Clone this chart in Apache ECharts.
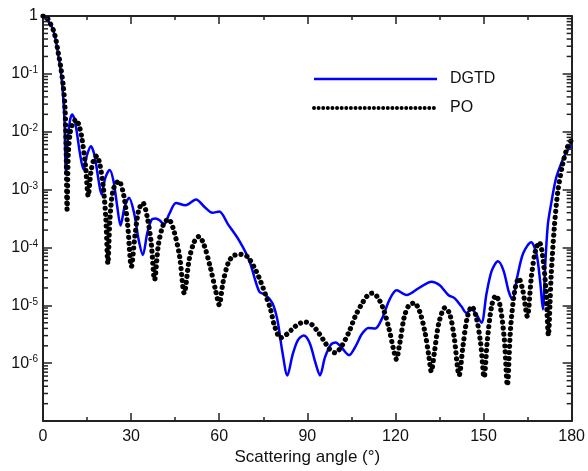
<!DOCTYPE html>
<html>
<head>
<meta charset="utf-8">
<script src="https://cdn.jsdelivr.net/npm/echarts@6/dist/echarts.min.js"></script>
<style>
  html, body { margin: 0; padding: 0; background: #fff; overflow: hidden; }
  #chart { width: 588px; height: 471px; }
</style>
</head>
<body>
<div id="chart"></div>
<script>
// values; y values kept as log10 exponents
var dgtdAngle = [0,2.4,3.5,4.4,5.2,6.0,6.8,7.3,7.8,8.5,
  9.2,9.9,10.7,11.5,12.5,13.8,15,16.3,17.5,18.8,
  19.9,21.2,22.7,24,25.3,26.4,27.8,29.3,31,32.5,
  34,35.5,37,38.3,39.7,41.2,43,45.3,48.5,52.1,
  55,57.7,60,63,66.8,70.2,73.6,75.8,78.1,79.8,
  81.5,83.2,85,86.8,88.8,90.8,92.8,94.3,96,98,
  99.7,101.5,104.2,106.5,108.5,110.8,113.1,115.5,118,120.4,
  123.8,128,132.3,135,138,140.2,142.5,144.2,145.9,147.5,
  149.3,151,152.8,154.9,156.8,158.5,159.8,161.5,163.5,166.2,
  168,169.3,170.2,171,171.9,173,174.7,176.9,178.5,180];
var dgtdExp = [0,-0.13,-0.25,-0.43,-0.68,-0.93,-1.35,-1.8,-2.7,-2.1,
  -1.8,-1.70,-1.78,-2.0,-2.35,-2.65,-2.4,-2.25,-2.4,-2.8,
  -3.08,-2.8,-2.66,-2.85,-3.3,-3.62,-3.3,-3.14,-3.4,-3.85,
  -4.13,-3.75,-3.52,-3.50,-3.53,-3.60,-3.42,-3.23,-3.27,-3.17,
  -3.30,-3.40,-3.38,-3.6,-3.88,-4.22,-4.76,-4.82,-4.96,-5.25,
  -5.8,-6.21,-5.85,-5.6,-5.52,-5.65,-6.0,-6.21,-5.9,-5.68,
  -5.64,-5.72,-5.86,-5.7,-5.5,-5.39,-5.40,-5.22,-4.9,-4.74,
  -4.82,-4.70,-4.59,-4.65,-4.82,-4.88,-5.02,-5.13,-5.07,-5.15,
  -5.30,-4.8,-4.4,-4.24,-4.4,-4.75,-4.90,-4.5,-4.1,-3.91,
  -4.1,-4.6,-5.07,-4.3,-3.60,-3.25,-2.80,-2.49,-2.33,-2.24];

var poAngle = [0,1.2,2.4,3.5,4.4,5.2,6.0,6.9,7.5,7.9,
  8.2,8.6,9.3,10.2,11.2,12.2,13.2,14.5,15.4,16.3,
  17.3,18.3,19.3,20.5,21.4,22.1,22.8,23.9,25.8,27.5,
  28.8,30.1,31.3,32.6,34.0,35.4,36.8,38.0,39.3,41,
  42.7,44.5,46.5,48.1,49.8,51.5,53.1,54.8,57,58.8,
  60,61.3,63.2,65,67.3,69.6,72.4,74.2,75.8,77.5,
  78.8,80.9,83,85.5,87.5,89.4,91.5,93.5,95.5,97.5,
  99.5,101.5,104.1,106.3,108.5,110.5,112,113.8,115.8,117.8,
  119.3,120.3,121.5,123,124.6,126.4,128.2,130,131.3,132.2,
  133.3,134.8,136.9,138.5,140,141.7,143,144.5,146,147.5,
  149,150.2,151.3,152.8,154.2,155.6,157.1,158.1,159.2,160.6,
  162,163.4,164.9,166.3,167.7,169,170,171.2,172.1,172.6,
  173,174.1,175.3,176.9,178.6,180];
var poExp = [0,-0.02,-0.125,-0.24,-0.41,-0.64,-0.87,-1.21,-1.6,-2.3,
  -3.34,-2.4,-2.0,-1.85,-1.79,-1.88,-2.1,-2.6,-3.11,-2.7,
  -2.48,-2.42,-2.55,-2.95,-3.5,-4.28,-3.5,-3.0,-2.85,-3.1,
  -3.6,-4.33,-3.8,-3.35,-3.23,-3.45,-3.9,-4.56,-3.95,-3.6,
  -3.51,-3.7,-4.15,-4.79,-4.2,-3.9,-3.81,-3.95,-4.35,-4.75,
  -4.99,-4.6,-4.25,-4.14,-4.12,-4.16,-4.39,-4.6,-4.82,-5.07,
  -5.35,-5.56,-5.5,-5.38,-5.31,-5.29,-5.33,-5.45,-5.6,-5.75,
  -5.82,-5.72,-5.47,-5.19,-4.98,-4.83,-4.79,-4.85,-5.05,-5.4,
  -5.75,-5.93,-5.65,-5.2,-5.0,-4.96,-5.1,-5.45,-5.85,-6.14,
  -5.8,-5.3,-5.04,-5.15,-5.55,-6.21,-5.7,-5.2,-5.02,-5.2,
  -5.65,-6.24,-5.6,-5.0,-4.83,-5.0,-5.6,-6.38,-5.4,-4.75,
  -4.53,-4.75,-5.19,-4.5,-4.05,-3.91,-4.1,-4.7,-5.52,-5.0,
  -4.5,-3.65,-3.03,-2.57,-2.26,-2.14];

var decadeExp = [-7, -6, -5, -4, -3, -2, -1];
var minorFactors = [2, 3, 4, 5, 6, 7, 8, 9];

function toPoints(xs, es) {
  return xs.map(function (x, i) { return [x, Math.pow(10, es[i])]; });
}

// minor ticks of the log axes (2..9 in every decade)
var minorTickVals = [];
decadeExp.forEach(function (e) {
  minorFactors.forEach(function (f) { minorTickVals.push([0, f * Math.pow(10, e)]); });
});

var axisColor = '#222';
var font = 'Liberation Sans, Arial, sans-serif';

var chart = echarts.init(document.getElementById('chart'));

function xAxisBase(pos, showLabel) {
  return {
    type: 'value', position: pos, min: 0, max: 180, interval: 30,
    axisLine: { show: true, onZero: false, lineStyle: { color: axisColor, width: 2 } },
    axisTick: { show: true, inside: true, length: 8, lineStyle: { color: axisColor, width: 1.5 } },
    minorTick: { show: true, splitNumber: 2, length: 4, lineStyle: { color: axisColor, width: 1.5 } },
    splitLine: { show: false },
    axisLabel: { show: showLabel, color: '#111', fontSize: 16, fontFamily: font, margin: 7 }
  };
}

function yAxisBase(pos, showLabel) {
  return {
    type: 'log', logBase: 10, position: pos, min: 1e-7, max: 1,
    axisLine: { show: true, onZero: false, lineStyle: { color: axisColor, width: 2 } },
    axisTick: { show: true, inside: true, length: 9, lineStyle: { color: axisColor, width: 1.5 } },
    splitLine: { show: false },
    axisLabel: {
      show: showLabel, color: '#111', fontSize: 16, fontFamily: font, margin: 5,
      formatter: function (v) {
        var e = Math.round(Math.log10(v));
        if (e === 0) return '1';
        if (e <= -7) return '';
        return '10{s|' + e + '}';
      },
      rich: { s: { fontSize: 10, fontFamily: font, color: '#111', verticalAlign: 'top', padding: [0, 0, 7, 0] } }
    }
  };
}

var xb = xAxisBase('bottom', true);
xb.name = 'Scattering angle (°)';
xb.nameLocation = 'middle';
xb.nameGap = 24;
xb.nameTextStyle = { color: '#111', fontSize: 17, fontFamily: font };

chart.setOption({
  animation: false,
  backgroundColor: '#fff',
  grid: { left: 43, right: 14, top: 16, bottom: 45 },
  legend: {
    orient: 'vertical', left: 307, top: 66, itemWidth: 123, itemHeight: 14, itemGap: 13,
    itemStyle: { opacity: 0 },
    data: [
      { name: 'DGTD', lineStyle: { color: '#0000ff', width: 2.5 } },
      { name: 'PO', lineStyle: { color: '#000', width: 4, type: [0.01, 4.6], cap: 'round' } }
    ],
    textStyle: { color: '#111', fontSize: 16, fontFamily: font, padding: [0, 0, 0, 8] }
  },
  xAxis: [xb, xAxisBase('top', false)],
  yAxis: [yAxisBase('left', true), yAxisBase('right', false)],
  series: [
    {
      name: 'DGTD', type: 'line', data: toPoints(dgtdAngle, dgtdExp),
      showSymbol: false, symbol: 'none', smooth: 0.3,
      lineStyle: { color: '#0000ff', width: 2.5 }, itemStyle: { color: '#0000ff' }
    },
    {
      name: 'PO', type: 'line', data: toPoints(poAngle, poExp),
      showSymbol: false, symbol: 'none', smooth: 0.3,
      lineStyle: { color: '#000', width: 5.2, type: [0.01, 6], cap: 'round' }, itemStyle: { color: '#000' }
    },
    {
      type: 'custom', silent: true, clip: false, z: 5,
      data: minorTickVals,
      renderItem: function (params, api) {
        var v = api.value(1);
        var l = api.coord([0, v]);
        var r = api.coord([180, v]);
        var st = { stroke: axisColor, lineWidth: 1.5 };
        return {
          type: 'group', children: [
            { type: 'line', shape: { x1: l[0], y1: l[1], x2: l[0] + 5, y2: l[1] }, style: st },
            { type: 'line', shape: { x1: r[0] - 5, y1: r[1], x2: r[0], y2: r[1] }, style: st }
          ]
        };
      }
    }
  ]
});
</script>
</body>
</html>
